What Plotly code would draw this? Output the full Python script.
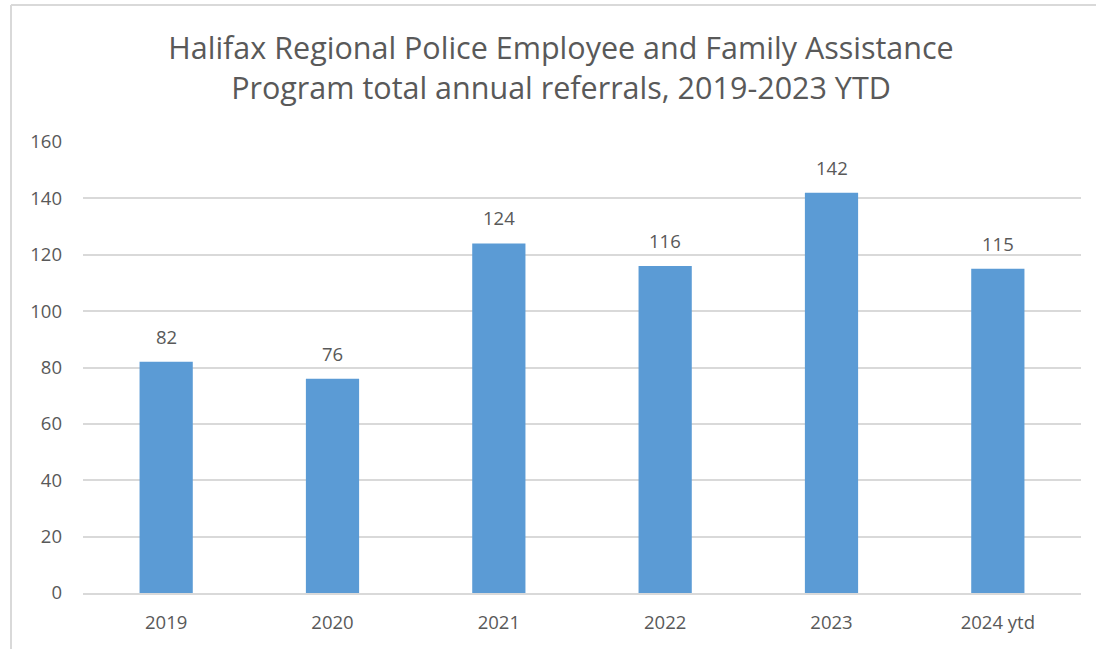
import plotly.graph_objects as go

categories = ["2019", "2020", "2021", "2022", "2023", "2024 ytd"]
referrals = [82, 76, 124, 116, 142, 115]
y_ticks = [0, 20, 40, 60, 80, 100, 120, 140, 160]

title_text = "Halifax Regional Police Employee and Family Assistance<br>Program total annual referrals, 2019-2023 YTD"

FONT = "Open Sans"
GRAY = "#595959"

fig = go.Figure()
fig.add_trace(go.Bar(
    x=categories,
    y=referrals,
    marker=dict(color="#5B9BD5", line=dict(width=0)),
    width=0.32,
    hoverinfo="x+y",
))

for i, v in enumerate(referrals):
    fig.add_annotation(
        x=i, y=v, xref="x", yref="y",
        text=str(v), showarrow=False,
        yanchor="bottom", yshift=11,
        font=dict(family=FONT, size=18.5, color=GRAY),
    )

W, H = 1096, 649
L, R, T, B = 83, 15, 142, 56
pw, ph = W - L - R, H - T - B

def px_x(p):
    return (p - L) / pw

def px_y(p):
    return 1 - (p - T) / ph

fig.update_layout(
    width=W, height=H,
    margin=dict(l=L, r=R, t=T, b=B),
    paper_bgcolor="white",
    plot_bgcolor="white",
    showlegend=False,
    title=dict(
        text=title_text,
        x=561 / W, xanchor="center",
        y=1 - 59 / H, yanchor="middle",
        font=dict(family=FONT, size=30.5, color=GRAY),
    ),
    font=dict(family=FONT, color=GRAY),
    xaxis=dict(
        type="category",
        categoryorder="array", categoryarray=categories,
        range=[-0.5, len(categories) - 0.5],
        showgrid=False,
        showline=True, linecolor="#D9D9D9", linewidth=2,
        ticks="", ticklabelstandoff=12,
        tickfont=dict(family=FONT, size=18.5, color=GRAY),
    ),
    yaxis=dict(
        range=[0, 160],
        tickvals=y_ticks,
        showgrid=True, gridcolor="#D9D9D9", gridwidth=1.5,
        zeroline=False,
        showline=False,
        ticks="", ticklabelstandoff=20,
        tickfont=dict(family=FONT, size=18.5, color=GRAY),
    ),
    shapes=[
        dict(type="line", xref="paper", yref="paper",
             x0=px_x(11), x1=px_x(11), y0=px_y(5), y1=px_y(660),
             line=dict(color="#D9D9D9", width=2)),
        dict(type="line", xref="paper", yref="paper",
             x0=px_x(11), x1=px_x(1110), y0=px_y(5), y1=px_y(5),
             line=dict(color="#D9D9D9", width=2)),
    ],
)

fig.write_html("out.html")
